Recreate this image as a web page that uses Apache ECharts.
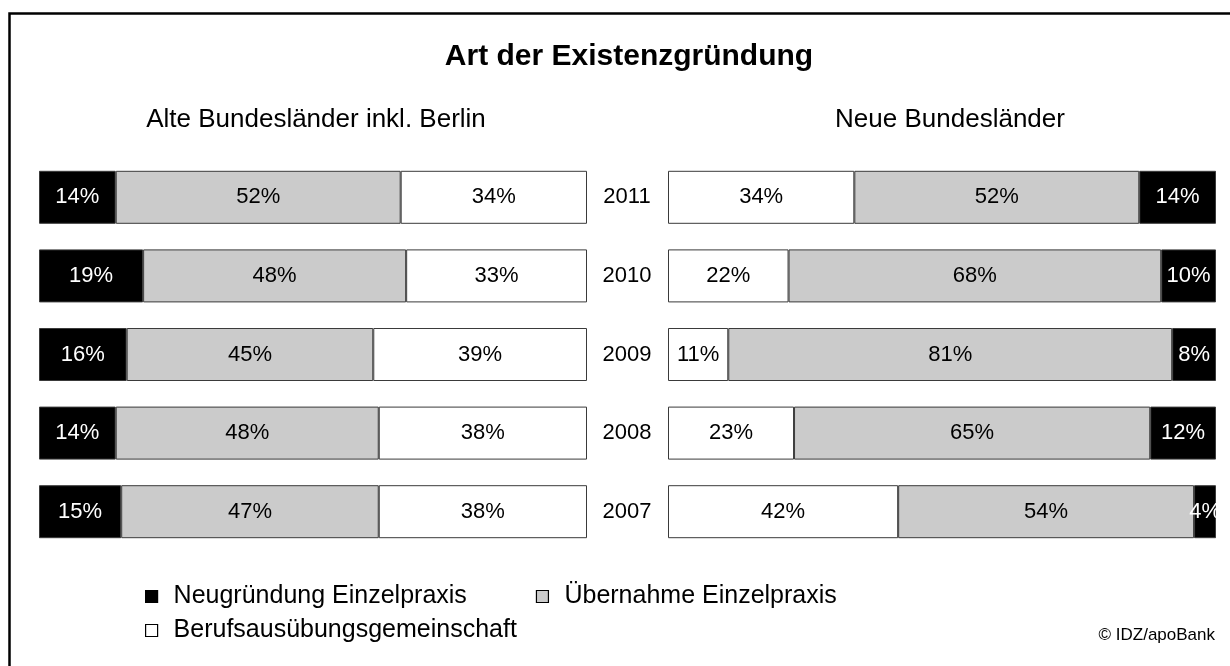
<!DOCTYPE html>
<html lang="de">
<head>
    <meta charset="UTF-8"/>
    <script src="https://cdn.jsdelivr.net/npm/echarts@6/dist/echarts.min.js"></script>
    <title>Art der Existenzgründung</title>
    <style>
        html, body { margin: 0; padding: 0; background: #fff; }
    </style>
</head>
<body>
<div id="main" style="width: 1230px;height:666px;"></div>
<script type="text/javascript">
    // Jahre (oben -> unten)
    var years = ['2011', '2010', '2009', '2008', '2007'];

    // Alte Bundesländer inkl. Berlin
    var westNeu = [14, 19, 16, 14, 15];
    var westUeber = [52, 48, 45, 48, 47];
    var westBag = [34, 33, 39, 38, 38];

    // Neue Bundesländer
    var ostBag = [34, 22, 11, 23, 42];
    var ostUeber = [52, 68, 81, 65, 54];
    var ostNeu = [14, 10, 8, 12, 4];

    var names = ['Neugründung Einzelpraxis', 'Übernahme Einzelpraxis', 'Berufsausübungsgemeinschaft'];
    var fills = ['#000000', '#cbcbcb', '#ffffff'];
    var fontFam = 'Liberation Sans, Arial, sans-serif';

    var myChart = echarts.init(document.getElementById('main'));

    function bar(name, data, idx, fill, stack) {
        return {
            name: name,
            type: 'bar',
            stack: stack,
            xAxisIndex: idx,
            yAxisIndex: idx,
            barWidth: 53,
            data: data,
            itemStyle: {color: fill, borderColor: '#3a3a3a', borderWidth: 1},
            label: {
                show: true,
                position: 'inside',
                formatter: '{c}%',
                fontFamily: fontFam,
                fontSize: 22,
                color: fill === '#000000' ? '#fff' : '#000'
            },
            emphasis: {disabled: true},
            animation: false
        };
    }

    var option = {
        backgroundColor: '#fff',
        animation: false,
        title: [
            {
                text: 'Art der Existenzgründung',
                left: 624,
                textAlign: 'center',
                top: 37,
                textStyle: {fontFamily: fontFam, fontSize: 30, fontWeight: 'bold', color: '#000'}
            },
            {
                text: 'Alte Bundesländer inkl. Berlin',
                left: 311,
                textAlign: 'center',
                top: 102,
                textStyle: {fontFamily: fontFam, fontSize: 26, fontWeight: 'normal', color: '#000'}
            },
            {
                text: 'Neue Bundesländer',
                left: 945,
                textAlign: 'center',
                top: 102,
                textStyle: {fontFamily: fontFam, fontSize: 26, fontWeight: 'normal', color: '#000'}
            },
            {
                text: '© IDZ/apoBank',
                right: 10,
                top: 622,
                textStyle: {fontFamily: fontFam, fontSize: 17, fontWeight: 'normal', color: '#000'}
            }
        ],
        legend: [
            {
                data: [names[0], names[1]],
                left: 140,
                top: 579,
                itemWidth: 12,
                itemHeight: 12,
                itemGap: 69,
                icon: 'rect',
                itemStyle: {borderColor: '#000', borderWidth: 1.2},
                textStyle: {fontFamily: fontFam, fontSize: 25, color: '#000', padding: [0, 0, 0, 11]},
                selectedMode: false
            },
            {
                data: [names[2]],
                left: 140,
                top: 613,
                itemWidth: 12,
                itemHeight: 12,
                icon: 'rect',
                itemStyle: {borderColor: '#000', borderWidth: 1.2},
                textStyle: {fontFamily: fontFam, fontSize: 25, color: '#000', padding: [0, 0, 0, 11]},
                selectedMode: false
            }
        ],
        grid: [
            {left: 39, top: 158, width: 548, height: 393},
            {left: 668, top: 158, width: 548, height: 393}
        ],
        xAxis: [
            {gridIndex: 0, type: 'value', min: 0, max: 100, show: false},
            {gridIndex: 1, type: 'value', min: 0, max: 100, show: false}
        ],
        yAxis: [
            {gridIndex: 0, type: 'category', data: years, inverse: true, show: false},
            {
                gridIndex: 1, type: 'category', data: years, inverse: true,
                position: 'left',
                axisLine: {show: false},
                axisTick: {show: false},
                splitLine: {show: false},
                axisLabel: {
                    margin: 41,
                    align: 'center',
                    fontFamily: fontFam,
                    fontSize: 22,
                    color: '#000'
                }
            }
        ],
        graphic: [
            {
                type: 'rect',
                shape: {x: 9.5, y: 13.5, width: 1400, height: 900},
                style: {fill: 'none', stroke: '#000', lineWidth: 2.5},
                silent: true
            }
        ],
        series: [
            bar(names[0], westNeu, 0, fills[0], 'west'),
            bar(names[1], westUeber, 0, fills[1], 'west'),
            bar(names[2], westBag, 0, fills[2], 'west'),
            bar(names[2], ostBag, 1, fills[2], 'ost'),
            bar(names[1], ostUeber, 1, fills[1], 'ost'),
            bar(names[0], ostNeu, 1, fills[0], 'ost')
        ]
    };

    myChart.setOption(option);
</script>
</body>
</html>
